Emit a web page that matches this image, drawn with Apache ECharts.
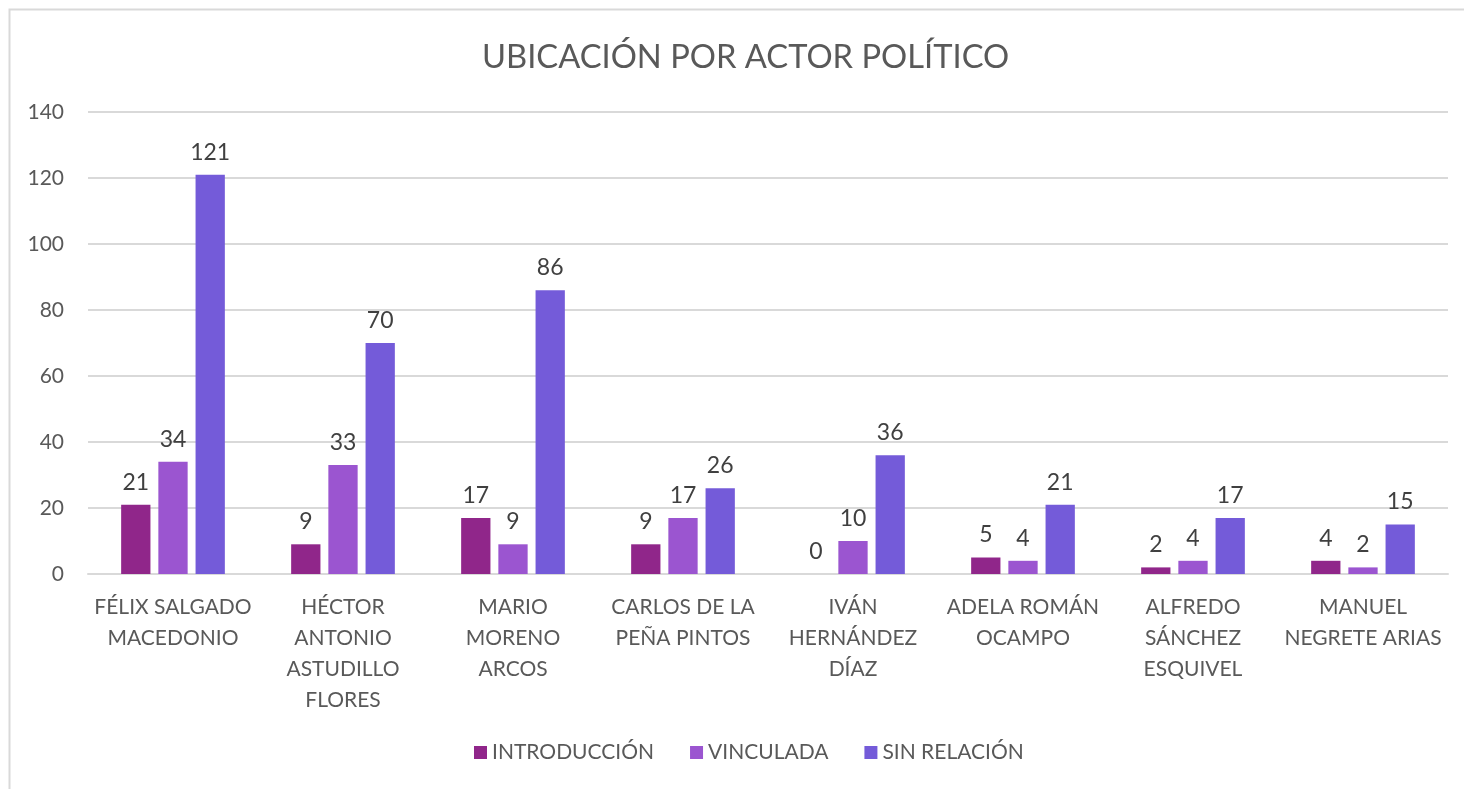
<!DOCTYPE html>
<html><head><meta charset="utf-8">
<script src="https://cdn.jsdelivr.net/npm/echarts@6/dist/echarts.min.js"></script>
<style>html,body{margin:0;padding:0;background:#fff}#c{width:1464px;height:789px}</style>
</head><body><div id="c"></div>
<script>
const categories = ["FÉLIX SALGADO\nMACEDONIO","HÉCTOR\nANTONIO\nASTUDILLO\nFLORES","MARIO\nMORENO\nARCOS","CARLOS DE LA\nPEÑA PINTOS","IVÁN\nHERNÁNDEZ\nDÍAZ","ADELA ROMÁN\nOCAMPO","ALFREDO\nSÁNCHEZ\nESQUIVEL","MANUEL\nNEGRETE ARIAS"];
const introduccion = [21, 9, 17, 9, 0, 5, 2, 4];
const vinculada = [34, 33, 9, 17, 10, 4, 4, 2];
const sinRelacion = [121, 70, 86, 26, 36, 21, 17, 15];
const seriesNames = ["INTRODUCCIÓN","VINCULADA","SIN RELACIÓN"];
const colors = ["#90268A","#9B55D0","#745BD9"];
const font = "Lato, 'Open Sans', sans-serif";
const chart = echarts.init(document.getElementById('c'));
const mk = (name, data, color) => ({
  name, type: 'bar', data, barGap: '27%', barCategoryGap: '39%',
  itemStyle: { color },
  label: { show: true, position: 'top', distance: 11, color: '#404040', fontSize: 23, fontFamily: font }
});
chart.setOption({
  animation: false,
  graphic: [{ type: 'rect', shape: { x: 9.5, y: 9.5, width: 1470, height: 790 }, style: { fill: 'none', stroke: '#d9d9d9', lineWidth: 2 } }],
  title: { text: 'UBICACIÓN POR ACTOR POLÍTICO', left: 477, top: 36,
    textStyle: { color: '#595959', fontSize: 32.7, fontWeight: 'normal', fontFamily: font } },
  legend: { bottom: 21, left: 469, itemWidth: 13, itemHeight: 13, itemGap: 36, icon: 'rect',
    textStyle: { color: '#595959', fontSize: 21, fontFamily: font }, data: seriesNames },
  grid: { left: 88, right: 16, top: 112, bottom: 215, containLabel: false },
  xAxis: { type: 'category', data: categories,
    axisLine: { lineStyle: { color: '#d9d9d9', width: 2 } }, axisTick: { show: false },
    axisLabel: { color: '#595959', fontSize: 21, lineHeight: 31, margin: 18, fontFamily: font, interval: 0 } },
  yAxis: { type: 'value', min: 0, max: 140, interval: 20,
    axisLine: { show: false }, axisTick: { show: false },
    splitLine: { lineStyle: { color: '#d9d9d9', width: 2 } },
    axisLabel: { color: '#595959', fontSize: 21, margin: 24, fontFamily: font } },
  series: [mk(seriesNames[0], introduccion, colors[0]), mk(seriesNames[1], vinculada, colors[1]), mk(seriesNames[2], sinRelacion, colors[2])]
});
</script></body></html>
